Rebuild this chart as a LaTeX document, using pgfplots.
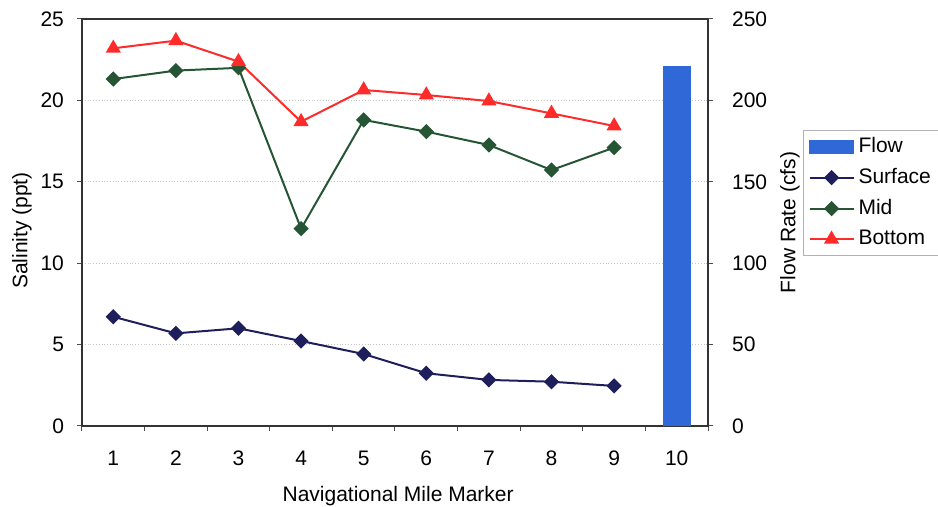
\documentclass[border=0pt]{standalone}
\usepackage{pgfplots}
\pgfplotsset{compat=1.18}
\usepackage{fontspec}
\setmainfont{Liberation Sans}

\definecolor{surfacenavy}{HTML}{1E1E5C}
\definecolor{midgreen}{HTML}{255535}
\definecolor{bottomred}{HTML}{FF2A2A}
\definecolor{flowblue}{HTML}{3068D8}

\newcommand{\tickfont}{\fontsize{10.5}{12}\selectfont}
\newcommand{\legfont}{\fontsize{10.5}{12}\selectfont}

\pgfplotsset{
  common/.style={
    at={(0,0)}, anchor=south west,
    scale only axis, width=313pt, height=203.5pt,
    xmin=0.5, xmax=10.5,
    tick align=outside,
    major tick length=2.5pt,
    tick label style={font=\tickfont},
    label style={font=\tickfont},
    axis line style={black!80, line width=0.6pt},
    tick style={black!70, line width=0.5pt},
    /pgf/number format/assume math mode=true,
  },
}

\begin{document}
\begin{tikzpicture}
% Salinity (left axis) with the three depth profiles
\begin{axis}[
  common,
  ymin=0, ymax=25,
  ytick={0,5,...,25},
  ytick pos=left,
  xtick pos=bottom,
  xtick={0.5,1.5,...,10.5},
  xticklabels={},
  extra x ticks={1,2,3,4,5,6,7,8,9,10},
  extra x tick labels={1,2,3,4,5,6,7,8,9,10},
  extra x tick style={major tick length=0pt, grid=none},
  xticklabel style={yshift=-9pt},
  yticklabel style={xshift=-3pt},
  ymajorgrids,
  grid style={densely dotted, gray!45, line width=0.5pt},
  xlabel={Navigational Mile Marker},
  xlabel style={at={(axis description cs:0.505,-0.172)}, anchor=center},
  ylabel={Salinity (ppt)},
  ylabel style={at={(axis description cs:-0.096,0.48)}, anchor=center},
  legend style={
    at={(1.152,0.727)}, anchor=north west,
    draw=gray!60, line width=0.4pt,
    font=\legfont, inner xsep=2.5pt, inner ysep=1.5pt,
    row sep=2.4pt,
    cells={anchor=west},
  },
  legend image code/.code={%
    \draw[mark repeat=2, mark phase=2, #1]
      plot coordinates {(0pt,0pt) (11pt,0pt) (22pt,0pt)};},
]
\addlegendimage{legend image code/.code={%
  \fill[flowblue] (0pt,-3.3pt) rectangle (22pt,3.3pt);}}
\addlegendentry{Flow}

\addplot[color=surfacenavy, line width=1pt, mark=square*,
  mark options={rotate=45, solid}, mark size=2.2pt]
  coordinates {(1,6.71) (2,5.69) (3,6.00) (4,5.22) (5,4.42)
               (6,3.24) (7,2.83) (8,2.72) (9,2.46)};
\addlegendentry{Surface}

\addplot[color=midgreen, line width=1pt, mark=square*,
  mark options={rotate=45, solid}, mark size=2.2pt]
  coordinates {(1,21.31) (2,21.83) (3,22.00) (4,12.12) (5,18.80)
               (6,18.08) (7,17.26) (8,15.72) (9,17.10)};
\addlegendentry{Mid}

\addplot[color=bottomred, line width=1pt, mark=triangle*,
  mark options={solid}, mark size=3.4pt]
  coordinates {(1,23.20) (2,23.67) (3,22.38) (4,18.69) (5,20.64)
               (6,20.33) (7,19.96) (8,19.20) (9,18.43)};
\addlegendentry{Bottom}
\end{axis}

% Flow rate (right axis)
\begin{axis}[
  common,
  ymin=0, ymax=250,
  ytick={0,50,...,250},
  axis y line*=right,
  axis x line=none,
  yticklabel style={xshift=6pt},
  ylabel={Flow Rate (cfs)},
  ylabel style={at={(axis description cs:1.131,0.5)}, anchor=center},
]
\addplot[ybar, bar width=14pt, fill=flowblue, draw=none]
  coordinates {(10,221)};
\end{axis}

\pgfresetboundingbox
\path (-41pt,-40.5pt) rectangle (428pt,213pt);
\end{tikzpicture}
\end{document}
